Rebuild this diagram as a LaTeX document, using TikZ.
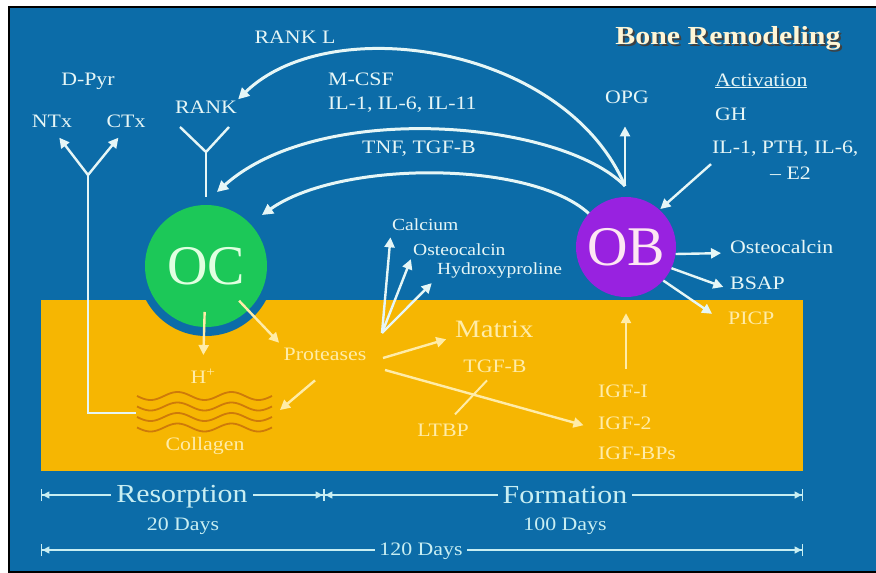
\documentclass[tikz,border=0pt]{standalone}
\usepackage{fontspec}
\setmainfont[FakeStretch=1.15]{Liberation Serif}
\newfontfamily\cellfont{Liberation Serif}
\usetikzlibrary{arrows.meta}
\usetikzlibrary{calc}
\definecolor{slide-blue}{RGB}{12, 108, 168}
\definecolor{bone-yellow}{RGB}{246, 182, 2}
\definecolor{oc-green}{RGB}{28, 200, 88}
\definecolor{ob-violet}{RGB}{152, 34, 224}
\definecolor{ink-white}{RGB}{230, 246, 246}
\definecolor{ink-cyan}{RGB}{200, 238, 242}
\definecolor{ink-yellow}{RGB}{255, 236, 168}
\definecolor{collagen-orange}{RGB}{206, 122, 10}
\definecolor{title-cream}{RGB}{255, 246, 214}

\begin{document}
\begin{tikzpicture}[x=1pt, y=-1pt,
    txt/.style={text=ink-white, inner sep=1pt, font=\fontsize{19}{21}\selectfont},
    smalltxt/.style={txt, font=\fontsize{17}{19}\selectfont},
    bonetxt/.style={txt, text=ink-yellow},
    bigtxt/.style={txt, text=ink-cyan, fill=slide-blue, inner sep=5pt, font=\fontsize{26}{28}\selectfont},
    daytxt/.style={txt, text=ink-cyan},
    arr/.style={-{Triangle[length=10pt,width=10pt]}, line width=2.4pt, draw=ink-white},
    bonearr/.style={arr, draw=ink-yellow},
    bend-arrow/.style={-{Triangle[length=11pt,width=11pt]}, line width=3pt, draw=ink-white},
    stem/.style={line width=2.4pt, draw=ink-white},
    dim-line/.style={{Bar[width=12pt]Triangle[length=7pt,width=7pt]}-{Triangle[length=7pt,width=7pt]Bar[width=12pt]}, line width=1.4pt, draw=ink-cyan},
    cell/.style={circle, inner sep=0pt, font=\cellfont\fontsize{56}{56}\selectfont}]
\useasboundingbox (0,0) rectangle (876,573);
\fill[white] (0,0) rectangle (876,573);
\fill[slide-blue] (10,8) rectangle (876,571);
\draw[black, line width=2.5pt] (9,573) -- (9,7) -- (876,7);
\draw[black, line width=2pt] (9,572) -- (876,572);

% bone and cells
\fill[bone-yellow] (41,300) rectangle (803,471);
\fill[slide-blue] (206,268) circle[radius=68pt];
\node[cell, fill=oc-green, minimum size=122pt, text=green!12!white] (OC) at (206,266) {OC};
\node[cell, fill=ob-violet, minimum size=100pt, text=magenta!10!white] (OB) at (626,247) {OB};

\foreach \k in {0,...,3}
  \draw[collagen-orange, line width=1.8pt] plot[domain=137:272, samples=80, smooth]
    (\x, {396+10.5*\k+4*sin((\x-137)*6.667)});

% title
\node[font=\bfseries\fontsize{26}{28}\selectfont, text=black!75, anchor=base] (title-shadow) at (730,46) {Bone Remodeling};
\node[font=\bfseries\fontsize{26}{28}\selectfont, text=title-cream, anchor=base] (title) at (728,44) {Bone Remodeling};

% labels on blue
\node[txt, anchor=base] (rankl) at (295,43) {RANK L};
\node[txt, anchor=base] (dpyr) at (88,85) {D-Pyr};
\node[txt, anchor=base] (ntx) at (52,127) {NTx};
\node[txt, anchor=base] (ctx) at (126,127) {CTx};
\node[txt, anchor=base] (rank) at (206,113) {RANK};
\node[txt, anchor=base west] (mcsf) at (327,85) {M-CSF};
\node[txt, anchor=base west] (ils) at (327,109) {IL-1, IL-6, IL-11};
\node[txt, anchor=base west] (tnf) at (361,153) {TNF, TGF-B};
\node[txt, anchor=base] (opg) at (627,103) {OPG};
\node[txt, anchor=base west] (activ) at (714,86) {\underline{Activation}};
\node[txt, anchor=base west] (gh) at (714,120) {GH};
\node[txt, anchor=base west] (ilpth) at (711,153) {IL-1, PTH, IL-6,};
\node[txt, anchor=base west] (e2) at (769,179) {-- E2};
\node[smalltxt, anchor=base west] (calcium) at (391,230) {Calcium};
\node[smalltxt, anchor=base west] (osteo-up) at (412,255) {Osteocalcin};
\node[smalltxt, anchor=base west] (hydroxy) at (436,274) {Hydroxyproline};
\node[txt, anchor=base west] (osteo-ob) at (729,253) {Osteocalcin};
\node[txt, anchor=base west] (bsap) at (729,289) {BSAP};

% labels in bone
\node[bonetxt, anchor=base west] (picp) at (727,324) {PICP};
\node[bonetxt, anchor=base] (proteases) at (325,360) {Proteases};
\node[bonetxt, anchor=base] (hplus) at (203,383) {H\textsuperscript{+}};
\node[bonetxt, anchor=base] (collagen) at (205,450) {Collagen};
\node[bonetxt, anchor=base west, font=\fontsize{25}{27}\selectfont] (matrix) at (454,337) {Matrix};
\node[bonetxt, anchor=base] (tgfb) at (495,372) {TGF-B};
\node[bonetxt, anchor=base] (ltbp) at (443,436) {LTBP};
\node[bonetxt, anchor=base west] (igf1) at (597,397) {IGF-I};
\node[bonetxt, anchor=base west] (igf2) at (597,429) {IGF-2};
\node[bonetxt, anchor=base west] (igfbp) at (597,459) {IGF-BPs};

\coordinate (ob-fork) at (625,186);
\coordinate (oc-tnf) at (217,192);
\coordinate (oc-arc) at (262,215);
\coordinate (fork-j) at (88,175);
\coordinate (coll-left) at (136,413);
\coordinate (rank-j) at (206,152);
\coordinate (rank-l) at (180,127);
\coordinate (rank-r) at (229,127);
\coordinate (prot-hub) at (382,333);
\coordinate (prot-mid) at (383,358);
\coordinate (prot-low) at (385,370);
\coordinate (coll-tip) at (280,410);

% signals from OB
\draw[bend-arrow] (ob-fork) .. controls (565,45) and (330,10) .. (rank.north east);
\draw[bend-arrow] (ob-fork) .. controls (560,120) and (320,100) .. (oc-tnf);
\draw[bend-arrow] (OB.138) .. controls (530,160) and (340,160) .. (oc-arc);
\draw[arr, shorten >=22pt] (ob-fork) -- (ob-fork |- opg.south);
\draw[arr, shorten >=1pt] ([yshift=-7pt]ilpth.south west) -- (OB.48);
\draw[arr, shorten >=8pt] (OB.-8) -- (osteo-ob.base west);
\draw[arr, shorten >=6pt] (OB.-25) -- (bsap.base west);
\draw[arr, shorten >=18pt] (OB.-42) -- (picp.base west);
\draw[bonearr, shorten <=14pt, shorten >=16pt] (OB.south |- igf1.north) -- (OB.south);

% receptors and markers
\draw[stem] (rank-l) -- (rank-j) -- (rank-r);
\draw[stem] (rank-j) -- ([yshift=8pt]OC.north);
\draw[arr, shorten >=12pt] (fork-j) -- (ntx.south);
\draw[arr, shorten >=12pt] (fork-j) -- (ctx.south);
\draw[stem] (fork-j) |- (coll-left);

% resorption
\draw[bonearr, shorten <=46pt, shorten >=13pt] (OC.center) -- (hplus.north);
\draw[bonearr, shorten <=48pt, shorten >=5pt] (OC.center) -- (proteases.north west);
\draw[bonearr] ([xshift=-10pt,yshift=-19pt]proteases.south) -- (coll-tip);
\draw[arr, shorten >=6pt] (prot-hub) -- (calcium.south west);
\draw[arr, shorten >=3pt] (prot-hub) -- (osteo-up.south west);
\draw[arr, shorten >=6pt] (prot-hub) -- (hydroxy.south west);
\draw[bonearr, shorten >=8pt] (prot-mid) -- (matrix.base west);
\draw[bonearr, shorten >=14pt] (prot-low) -- (igf2.base west);
\draw[line width=2pt, ink-yellow] ([xshift=12pt,yshift=8pt]ltbp.north) -- ([xshift=-8pt,yshift=-7pt]tgfb.south);

% time scale
\coordinate (res-l) at (41,495);
\coordinate (res-r) at (324,495);
\coordinate (form-r) at (803,495);
\coordinate (tot-l) at (41,550);
\coordinate (tot-r) at (803,550);
\draw[dim-line] (res-l) -- (res-r);
\draw[dim-line] (res-r) -- (form-r);
\draw[dim-line] (tot-l) -- (tot-r);
\node[bigtxt, anchor=base] (resorption) at (182,502) {Resorption};
\node[bigtxt, anchor=base] (formation) at (565,503) {Formation};
\node[daytxt, anchor=base] (days20) at (183,530) {20 Days};
\node[daytxt, anchor=base] (days100) at (565,530) {100 Days};
\node[daytxt, fill=slide-blue, inner sep=4pt, anchor=base] (days120) at (421,555) {120 Days};
\end{tikzpicture}
\end{document}
